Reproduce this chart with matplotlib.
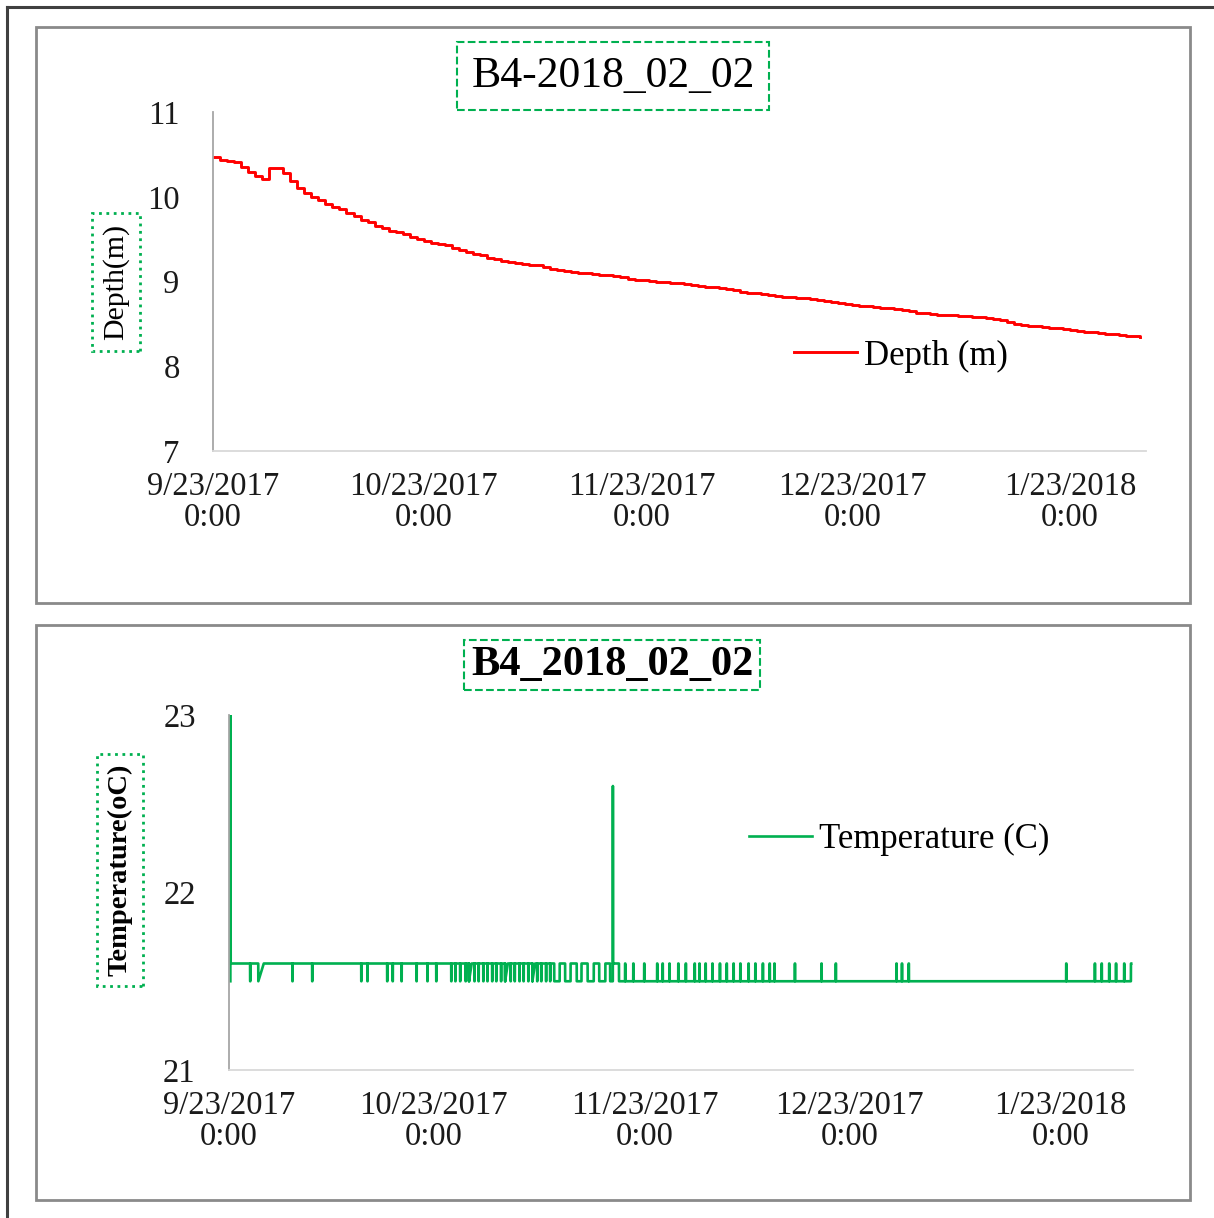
import numpy as np
import pandas as pd
import matplotlib
matplotlib.use("Agg")
import matplotlib.pyplot as plt
from matplotlib.patches import Rectangle
from matplotlib.lines import Line2D

plt.rcParams['font.family'] = ['Liberation Serif', 'DejaVu Serif']

START = pd.Timestamp("2017-09-23")

# daily depth (m), day 0 = 9/23/2017
depth_m = [10.47, 10.43, 10.42, 10.41, 10.35, 10.29, 10.24, 10.21, 10.34, 10.34,
           10.28, 10.18, 10.10, 10.05, 10.00, 9.96, 9.92, 9.88, 9.85, 9.81,
           9.77, 9.73, 9.70, 9.66, 9.63, 9.60, 9.58, 9.56, 9.53, 9.50,
           9.48, 9.46, 9.44, 9.43, 9.40, 9.37, 9.35, 9.33, 9.31, 9.28,
           9.26, 9.24, 9.23, 9.22, 9.21, 9.20, 9.19, 9.17, 9.15, 9.13,
           9.12, 9.11, 9.10, 9.10, 9.09, 9.08, 9.08, 9.06, 9.05, 9.03,
           9.02, 9.02, 9.01, 9.00, 8.99, 8.98, 8.98, 8.97, 8.96, 8.95,
           8.94, 8.93, 8.92, 8.91, 8.90, 8.88, 8.87, 8.86, 8.85, 8.84,
           8.83, 8.82, 8.82, 8.81, 8.80, 8.79, 8.78, 8.77, 8.76, 8.75,
           8.73, 8.72, 8.71, 8.71, 8.70, 8.69, 8.69, 8.68, 8.66, 8.65,
           8.63, 8.63, 8.62, 8.61, 8.60, 8.60, 8.59, 8.59, 8.58, 8.58,
           8.57, 8.56, 8.54, 8.52, 8.50, 8.49, 8.48, 8.47, 8.46, 8.45,
           8.45, 8.44, 8.43, 8.42, 8.41, 8.40, 8.39, 8.38, 8.38, 8.37,
           8.36, 8.36, 8.35]

# temperature: 21.6 C baseline with short drops to 21.5 C (days)
temp_high = 21.6
temp_low = 21.5
drops_early = [3.1, 9.3, 12.2, 19.4, 20.3, 23.2, 24.0, 25.3, 27.5, 29.1, 30.4,
               32.6, 33.2, 33.9, 34.7, 35.2, 36.0, 36.6, 37.3, 37.9, 38.6,
               39.2, 39.9, 40.5, 41.3, 41.9, 42.6, 43.2, 43.9, 44.5, 45.2,
               45.8, 46.5, 47.1]
slow_drops = [(4.3, 5.1), (35.2, 35.6), (40.5, 40.9), (44.5, 44.9)]
# alternating stretch before the spike (switch days, starting from 21.6)
toggle_days = [47.7, 48.5, 49.3, 50.1, 51.0, 51.7, 52.6, 53.5, 54.3, 55.2, 55.9]
start_spike = (0.2, 23.0)
mid_spike = (56.3, 22.6)
# 21.5 C baseline afterwards with short rises to 21.6 C (days)
rises_late = [58.1, 59.3, 60.9, 62.8, 63.6, 64.6, 65.9, 67.0, 68.3, 69.0,
              69.9, 70.9, 72.0, 73.0, 74.0, 75.0, 76.2, 77.2, 78.3, 79.3,
              80.0, 83.0, 86.9, 89.0, 97.9, 98.7, 99.7, 122.8, 127.0, 128.0,
              129.1, 130.1, 131.3, 132.3]

tick_dates = ["2017-09-23", "2017-10-23", "2017-11-23", "2017-12-23", "2018-01-23"]
tick_labels = ["9/23/2017\n0:00", "10/23/2017\n0:00", "11/23/2017\n0:00",
               "12/23/2017\n0:00", "1/23/2018\n0:00"]

GREEN = "#00b050"


def to_dates(days):
    return START + pd.to_timedelta(np.asarray(days, dtype=float), unit="D")


def build_temperature():
    pts = [(start_spike[0], temp_low), (start_spike[0] + 0.02, start_spike[1]),
           (start_spike[0] + 0.05, temp_high)]
    events = [(d, "drop") for d in drops_early] + [(d, "slow") for d in slow_drops]
    events.sort(key=lambda e: e[0] if e[1] == "drop" else e[0][0])
    for d, kind in events:
        if kind == "drop":
            pts += [(d - 0.01, temp_high), (d, temp_low), (d + 0.03, temp_low), (d + 0.04, temp_high)]
        else:
            a, b = d
            pts += [(a - 0.01, temp_high), (a, temp_low), (b, temp_high)]
    level = temp_high
    for t in toggle_days:
        new = temp_low if level == temp_high else temp_high
        pts += [(t, level), (t + 0.01, new)]
        level = new
    sd, sv = mid_spike
    pts += [(sd, level), (sd + 0.01, sv), (sd + 0.03, temp_high),
            (sd + 0.9, temp_high), (sd + 0.91, temp_low)]
    for d in rises_late:
        pts += [(d - 0.01, temp_low), (d, temp_high), (d + 0.03, temp_high), (d + 0.04, temp_low)]
    pts = pts[:-1]
    days, vals = zip(*pts)
    return to_dates(days), np.array(vals)


fig = plt.figure(figsize=(12.14, 12.18), dpi=100)
W, H = 1214, 1218


def fx(x):
    return x / W


def fy(y):
    return 1 - y / H


# outer frame and panel frames
fig.add_artist(Line2D([fx(7), fx(7)], [fy(7), 0], color="#404040", lw=2.2))
fig.add_artist(Line2D([fx(7), 1], [fy(7), fy(7)], color="#404040", lw=2.2))
for y0, y1 in [(27, 603), (625, 1200)]:
    fig.add_artist(Rectangle((fx(36), fy(y1)), fx(1190) - fx(36), fy(y0) - fy(y1),
                             fill=False, edgecolor="#8a8a8a", lw=2))


def style_axis(ax):
    for s in ["top", "right"]:
        ax.spines[s].set_visible(False)
    ax.spines["left"].set_color("#a6a6a6")
    ax.spines["bottom"].set_color("#d9d9d9")
    ax.spines["left"].set_linewidth(1.3)
    ax.spines["bottom"].set_linewidth(1.3)
    ax.tick_params(axis="both", length=0, labelsize=23.5, colors="#1a1a1a")
    ax.tick_params(axis="y", pad=24)
    ax.tick_params(axis="x", pad=15)
    ax.set_xticks(pd.to_datetime(tick_dates))
    ax.set_xticklabels(tick_labels, linespacing=1.0)
    ax.set_xlim(START, START + pd.Timedelta(days=132.8))


# ---- depth
ax1 = fig.add_axes([fx(213), fy(451), fx(1146) - fx(213), fy(112) - fy(451)])
ax1.plot(to_dates(np.arange(len(depth_m))), depth_m, drawstyle="steps-post",
         color="#ff0000", lw=2.1, label="Depth (m)")
ax1.set_ylim(7, 11)
ax1.set_yticks([7, 8, 9, 10, 11])
style_axis(ax1)
ax1.legend(loc="center left", bbox_to_anchor=(fx(763 - 213) / (fx(1146) - fx(213)), 0.28),
           frameon=False, fontsize=25, handlelength=1.8, handletextpad=0.2)

fig.text(fx(613), fy(76), "B4-2018_02_02", fontsize=31.5, ha="center", va="center",
         bbox=dict(boxstyle="square,pad=0.32", fc="white", ec=GREEN, ls="--", lw=1.5))
fig.text(fx(116), fy(282), "Depth(m)", fontsize=21.5, rotation=90, ha="center", va="center",
         bbox=dict(boxstyle="square,pad=0.35", fc="white", ec=GREEN, ls=":", lw=2))

# ---- temperature
tx, tv = build_temperature()
ax2 = fig.add_axes([fx(229), fy(1070), fx(1133) - fx(229), fy(715) - fy(1070)])
ax2.plot(tx, tv, color=GREEN, lw=1.9, label="Temperature (C)")
ax2.set_ylim(21, 23)
ax2.set_yticks([21, 22, 23])
style_axis(ax2)
ax2.set_xlim(START, START + pd.Timedelta(days=132.6))
ax2.legend(loc="center left", bbox_to_anchor=(fx(718 - 229) / (fx(1133) - fx(229)), 0.648),
           frameon=False, fontsize=25, handlelength=1.8, handletextpad=0.2)

fig.text(fx(612), fy(665), "B4_2018_02_02", fontsize=30.5, fontweight="bold", ha="center",
         va="center",
         bbox=dict(boxstyle="square,pad=0.15", fc="white", ec=GREEN, ls="--", lw=1.5))
fig.text(fx(120), fy(870), "Temperature(oC)", fontsize=20.5, fontweight="bold", rotation=90,
         ha="center", va="center",
         bbox=dict(boxstyle="square,pad=0.35", fc="white", ec=GREEN, ls=":", lw=2))

fig.savefig("out.png", dpi=100)
